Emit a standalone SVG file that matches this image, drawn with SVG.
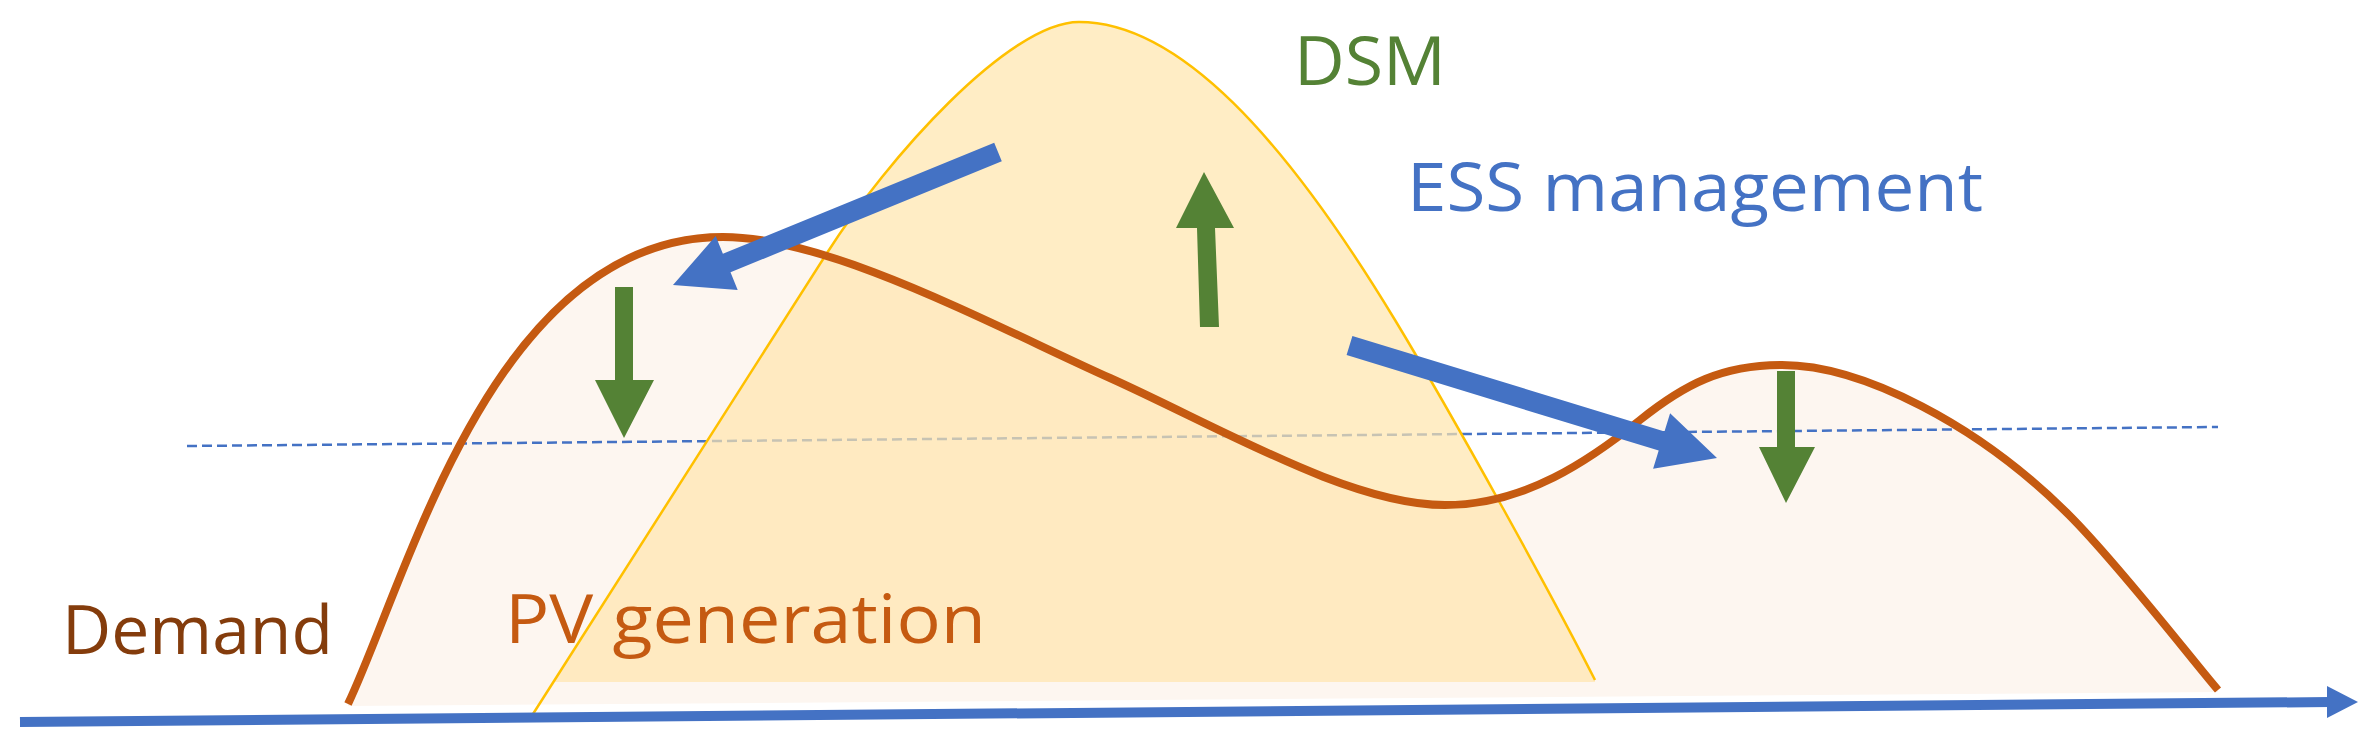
<svg xmlns="http://www.w3.org/2000/svg" width="2374" height="741" viewBox="0 0 2374 741">
  <defs>
    <style>
      .lbl { font-family: "Open Sans", "Liberation Sans", sans-serif; font-size: 68px; }
      .green { fill: #548235; }
      .blue { fill: #4472c4; }
    </style>
    <clipPath id="pvclip"><rect x="0" y="0" width="2374" height="682"/></clipPath>
  </defs>
  <rect width="2374" height="741" fill="#ffffff"/>

  <!-- demand fill -->
  <path id="demand-fill" fill="#fdf6f0" d="M348,704 C408,578 493,237 723,237 C830,237 990,324 1110,378 C1220,427.5 1350,505 1445,505 C1525,505 1590,460 1640,420 C1685,384 1722,365 1782,365 C1862,365 1979,425 2069,515 C2119,565 2193,661 2218,690 L2218,692 L348,706 Z"/>

  <!-- threshold dashed line -->
  <line id="threshold" x1="187" y1="446" x2="2218" y2="427" stroke="#4472c4" stroke-width="2.5" stroke-dasharray="10 5"/>

  <!-- PV fill -->
  <path id="pv-fill" clip-path="url(#pvclip)" fill="#ffe6ad" fill-opacity="0.7" d="M533,714 L827,253 C887,159 1009,22 1079,22 C1179,22 1285,138.5 1395,320 C1455,419 1555,601 1595,680 L1595,714 Z"/>

  <!-- curves -->
  <g id="pv-curve">
    <path fill="none" stroke="#ffc000" stroke-width="2.5" d="M533,714 L827,253 C887,159 1009,22 1079,22 C1179,22 1285,138.5 1395,320 C1455,419 1555,601 1595,680"/>
  </g>
  <g id="demand-curve">
    <path fill="none" stroke="#c55a11" stroke-width="8" d="M348,704 C408,578 493,237 723,237 C830,237 990,324 1110,378 C1220,427.5 1350,505 1445,505 C1525,505 1590,460 1640,420 C1685,384 1722,365 1782,365 C1862,365 1979,425 2069,515 C2119,565 2193,661 2218,690"/>
  </g>

  <!-- arrows -->
  <g id="connectors">
    <polygon id="dsm-down-left" class="green" points="615,287 633,287 633,380 654,380 624,438 595,380 615,380"/>
    <polygon id="dsm-up" class="green" points="1204,172 1234,228 1215,228 1219,327 1200,327 1197,228 1176,228"/>
    <polygon id="dsm-down-right" class="green" points="1777,371 1795,371 1795,447 1815,447 1786,503 1759,447 1777,447"/>
    <polygon id="ess-left" class="blue" points="994.2,142.7 1001.8,161.3 730.5,272.3 737.7,289.9 673,285 715.7,236.1 722.9,253.7"/>
    <polygon id="ess-right" class="blue" points="1352.4,335.9 1664.5,431.4 1670.1,413.3 1717,458 1653.1,468.7 1658.7,450.6 1346.6,355.1"/>
  </g>

  <!-- time axis -->
  <g id="axis">
    <line x1="20" y1="722" x2="2330" y2="702" stroke="#4472c4" stroke-width="10"/>
    <polygon class="blue" points="2327,686 2358,702 2327,718"/>
  </g>

  <!-- labels -->
  <g id="label-demand"><text class="lbl" x="62" y="654" fill="#843c0c" textLength="271" lengthAdjust="spacingAndGlyphs">Demand</text></g>
  <g id="label-pv"><text class="lbl" x="505" y="643" fill="#c55a11" textLength="481" lengthAdjust="spacingAndGlyphs">PV generation</text></g>
  <g id="label-dsm"><text class="lbl" x="1294" y="85" fill="#548235" textLength="152" lengthAdjust="spacingAndGlyphs">DSM</text></g>
  <g id="label-ess"><text class="lbl" x="1407" y="211" fill="#4472c4" textLength="576" lengthAdjust="spacingAndGlyphs">ESS management</text></g>
</svg>
